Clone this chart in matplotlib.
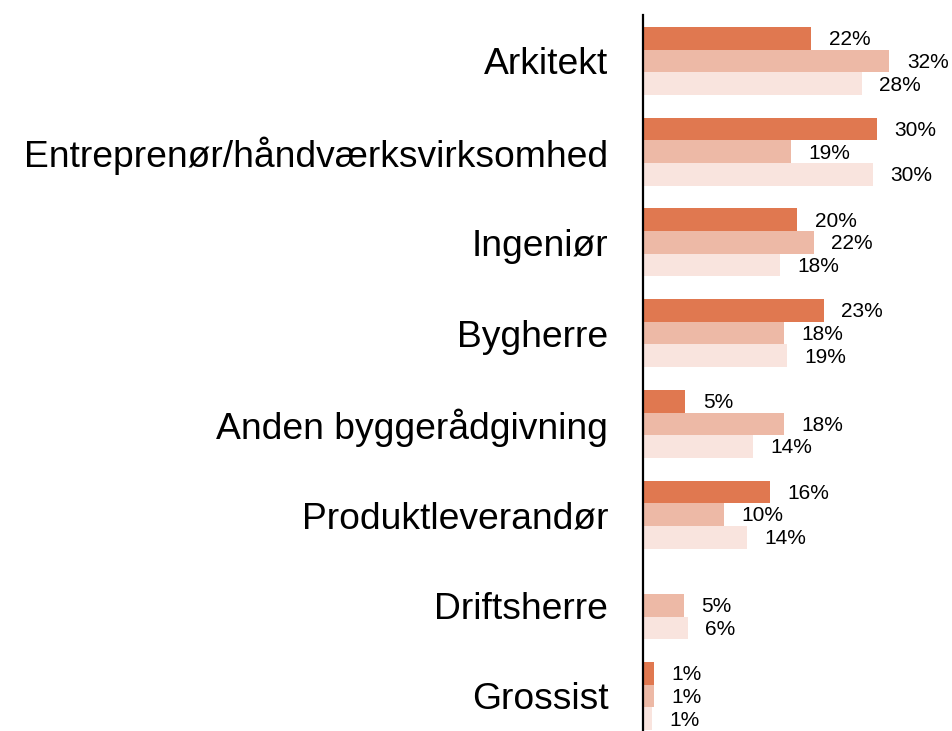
"""Grouped horizontal bars: share of respondents by role, three series."""
import matplotlib
matplotlib.use("Agg")
import matplotlib.pyplot as plt
import numpy as np

plt.rcParams["font.family"] = ["Liberation Sans", "DejaVu Sans"]

CATEGORIES = [
    "Arkitekt",
    "Entreprenør/håndværksvirksomhed",
    "Ingeniør",
    "Bygherre",
    "Anden byggerådgivning",
    "Produktleverandør",
    "Driftsherre",
    "Grossist",
]
# bar lengths (percent); nan = no bar
SERIES_A = [21.8, 30.3, 20.0, 23.4, 5.5, 16.4, np.nan, 1.4]
SERIES_B = [31.9, 19.2, 22.1, 18.2, 18.2, 10.5, 5.3, 1.4]
SERIES_C = [28.3, 29.8, 17.7, 18.7, 14.3, 13.5, 5.8, 1.2]
# printed labels
LABELS_A = ["22%", "30%", "20%", "23%", "5%", "16%", "", "1%"]
LABELS_B = ["32%", "19%", "22%", "18%", "18%", "10%", "5%", "1%"]
LABELS_C = ["28%", "30%", "18%", "19%", "14%", "14%", "6%", "1%"]

COLORS = ["#E07850", "#EDB9A6", "#F9E4DE"]

W, H = 953, 731
fig = plt.figure(figsize=(W / 100, H / 100), dpi=100)
ax = fig.add_axes([643 / W, 0, 309 / W, 716 / H])

y = np.arange(len(CATEGORIES))
bar_h = 0.25
series = [(SERIES_A, LABELS_A), (SERIES_B, LABELS_B), (SERIES_C, LABELS_C)]
for i, (vals, labels) in enumerate(series):
    pos = y + (i - 1) * bar_h
    vals = np.array(vals, dtype=float)
    ax.barh(pos, np.nan_to_num(vals), height=bar_h, color=COLORS[i], linewidth=0)
    for p, v, lab in zip(pos, vals, labels):
        if lab and not np.isnan(v):
            ax.annotate(lab, (v, p), xytext=(12.5, -1), textcoords="offset points",
                        va="center", ha="left", fontsize=15, color="black")

ax.set_xlim(0, 40)
ax.set_ylim(7 + 0.386, -0.507)
ax.set_yticks(y)
ax.set_yticklabels(CATEGORIES, fontsize=26.8)
ax.tick_params(axis="y", length=0, pad=25)
ax.set_xticks([])
for s in ["top", "right", "bottom"]:
    ax.spines[s].set_visible(False)
ax.spines["left"].set_linewidth(1.6)
ax.spines["left"].set_color("black")

fig.savefig("out.png", dpi=100)
